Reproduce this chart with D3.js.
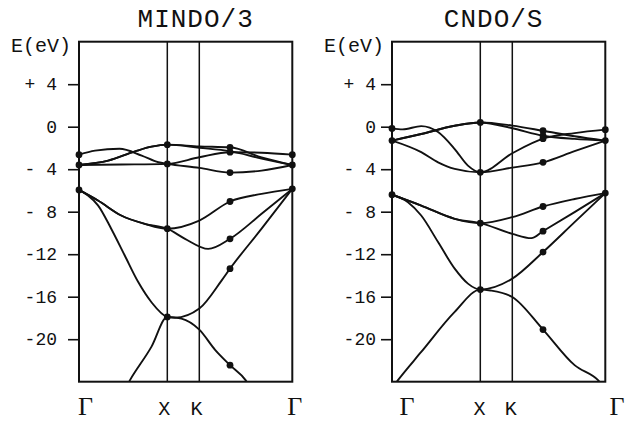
<!DOCTYPE html>
<html lang="en">
<head>
  <meta charset="UTF-8">
  <title>MINDO/3 vs CNDO/S band structure</title>
  <script src="https://d3js.org/d3.v7.min.js"></script>
  <style>
    body { margin: 0; background: #fff; }
    svg { display: block; }
    .mono { font-family: "Liberation Mono", "DejaVu Sans Mono", monospace; fill: #111; }
    .greek { font-family: "Liberation Serif", "DejaVu Serif", serif; fill: #111; }
    .band { fill: none; stroke: #111; stroke-width: 1.9; }
  </style>
</head>
<body>
  <svg id="chart" width="626" height="421"></svg>

  <script>
    // energy axis
    const energyTicks = [4, 0, -4, -8, -12, -16, -20];
    const energyLabels = ["+ 4", "0", "- 4", "- 8", "-12", "-16", "-20"];
    const energyDomain = [8, -24];

    // k path: Γ - X - K - Γ (fraction of path length)
    const kPoints = [0, 0.414, 0.564, 1];
    const kNames = ["Γ", "X", "K", "Γ"];

    // ---- MINDO/3 ----
    const mindoBands = [
      [[0,-2.63],[0.075,-2.25],[0.19,-2.08],[0.294,-2.72],[0.372,-3.35],[0.414,-3.5],[0.564,-3.88],[0.708,-4.32],[0.856,-4.13],[1,-3.6]],
      [[0,-3.6],[0.2,-3.56],[0.414,-3.5],[0.564,-2.88],[0.708,-2.4],[0.856,-2.45],[1,-2.63]],
      [[0,-3.6],[0.137,-3.19],[0.263,-2.32],[0.34,-1.88],[0.414,-1.69],[0.564,-1.85],[0.708,-1.94],[0.856,-2.88],[1,-3.6]],
      [[0,-3.6],[0.137,-3.19],[0.263,-2.32],[0.34,-1.88],[0.414,-1.69],[0.564,-1.98],[0.708,-2.3],[0.856,-3.0],[1,-3.6]],
      [[0,-5.95],[0.089,-6.95],[0.198,-8.36],[0.308,-9.14],[0.414,-9.6],[0.564,-8.83],[0.708,-7.04],[0.856,-6.32],[1,-5.85]],
      [[0,-5.95],[0.089,-6.95],[0.198,-8.36],[0.308,-9.14],[0.414,-9.6],[0.497,-10.55],[0.606,-11.5],[0.708,-10.55],[0.856,-8.2],[1,-5.85]],
      [[0,-5.95],[0.042,-6.48],[0.089,-7.4],[0.151,-9.6],[0.214,-12.1],[0.277,-14.6],[0.339,-16.5],[0.414,-17.9],[0.45,-17.98],[0.564,-17.12],[0.669,-14.46],[0.708,-13.36],[0.856,-9.6],[1,-5.85]],
      [[0.18,-26],[0.239,-23.85],[0.34,-20.7],[0.414,-17.9],[0.48,-18.06],[0.564,-19.1],[0.638,-21.0],[0.708,-22.44],[0.781,-23.85],[0.84,-26]]
    ];
    const mindoDots = [
      [0,-2.63],[0,-3.6],[0,-5.95],
      [0.414,-1.69],[0.414,-3.5],[0.414,-9.6],[0.414,-17.9],
      [0.708,-1.94],[0.708,-2.4],[0.708,-4.32],[0.708,-7.04],[0.708,-10.55],[0.708,-13.36],[0.708,-22.44],
      [1,-2.63],[1,-3.6],[1,-5.85]
    ];
    const mindoLabelK = [0.03, 0.4, 0.551, 1.011];

    // ---- CNDO/S ----
    const cndoBands = [
      [[0,-0.16],[0.05,-0.25],[0.137,0.05],[0.216,-0.5],[0.294,-2.1],[0.356,-3.66],[0.414,-4.29],[0.564,-3.85],[0.708,-3.35],[0.856,-2.3],[1,-1.31]],
      [[0,-1.31],[0.137,-2.4],[0.216,-3.35],[0.294,-3.97],[0.414,-4.29],[0.564,-2.5],[0.708,-1.13],[0.856,-0.6],[1,-0.28]],
      [[0,-1.31],[0.137,-0.69],[0.294,0.09],[0.414,0.4],[0.564,0.1],[0.708,-0.38],[0.856,-0.9],[1,-1.31]],
      [[0,-1.31],[0.137,-0.69],[0.294,0.09],[0.414,0.4],[0.564,-0.15],[0.708,-0.85],[0.856,-1.15],[1,-1.31]],
      [[0,-6.4],[0.137,-7.42],[0.294,-8.67],[0.414,-9.08],[0.564,-8.51],[0.708,-7.51],[0.856,-6.8],[1,-6.25]],
      [[0,-6.4],[0.137,-7.42],[0.294,-8.67],[0.414,-9.08],[0.564,-10.08],[0.653,-10.49],[0.708,-9.83],[0.856,-8.04],[1,-6.25]],
      [[0,-6.4],[0.075,-7.1],[0.137,-8.36],[0.216,-10.86],[0.294,-13.36],[0.356,-14.77],[0.414,-15.33],[0.564,-14.3],[0.708,-11.8],[0.856,-8.98],[1,-6.25]],
      [[-0.05,-26],[0.028,-23.85],[0.137,-21.2],[0.294,-17.43],[0.414,-15.33],[0.462,-15.42],[0.564,-16.03],[0.708,-19.09],[0.856,-22.44],[0.966,-23.85],[1.05,-26]]
    ];
    const cndoDots = [
      [0,-0.16],[0,-1.31],[0,-6.4],
      [0.414,0.4],[0.414,-4.29],[0.414,-9.08],[0.414,-15.33],
      [0.708,-0.38],[0.708,-0.85],[0.708,-1.13],[0.708,-3.35],[0.708,-7.51],[0.708,-9.83],[0.708,-11.8],[0.708,-19.09],
      [1,-0.28],[1,-1.31],[1,-6.25]
    ];
    const cndoLabelK = [0.07, 0.41, 0.557, 1.055];

    const svg = d3.select("#chart");

    const frameTop = 41.7, frameBottom = 381.7, panelW = 213.3;
    const y = d3.scaleLinear().domain(energyDomain).range([frameTop, frameBottom]);

    function drawPanel(id, left, title, bands, dots, labelK, tickPad) {
      const x = d3.scaleLinear().domain([0, 1]).range([left, left + panelW]);
      const g = svg.append("g");

      g.append("clipPath").attr("id", "clip-" + id)
        .append("rect")
        .attr("x", x(0)).attr("y", y(energyDomain[0]))
        .attr("width", x(1) - x(0)).attr("height", y(energyDomain[1]) - y(energyDomain[0]));

      // title
      g.append("text").attr("class", "mono")
        .attr("x", (x(0) + x(1)) / 2 + (id === "m" ? 10 : -5))
        .attr("y", 27)
        .attr("text-anchor", "middle")
        .style("font-size", "26px")
        .style("letter-spacing", "1px")
        .text(title);

      g.append("text").attr("class", "mono")
        .attr("x", x(0) - 68).attr("y", 52)
        .style("font-size", "20px")
        .text("E(eV)");

      // energy axis
      const axis = g.append("g")
        .attr("transform", `translate(${x(0)},0)`)
        .call(d3.axisLeft(y).tickValues(energyTicks).tickSize(11).tickSizeOuter(0)
          .tickPadding(tickPad).tickFormat((d, i) => energyLabels[i]));
      axis.select(".domain").remove();
      axis.selectAll("line").attr("stroke", "#111").attr("stroke-width", 1.6);
      axis.selectAll("text")
        .attr("class", "mono")
        .style("font-size", "18px")
        .style("white-space", "pre")
        .attr("fill", "#111");

      // X and K lines
      g.selectAll(".kline").data(kPoints.slice(1, 3)).enter().append("line")
        .attr("x1", d => x(d)).attr("x2", d => x(d))
        .attr("y1", y(energyDomain[0])).attr("y2", y(energyDomain[1]))
        .attr("stroke", "#111").attr("stroke-width", 1.5);

      // bands
      const line = d3.line()
        .x(d => x(d[0])).y(d => y(d[1]))
        .curve(d3.curveMonotoneX);
      g.append("g").attr("clip-path", `url(#clip-${id})`)
        .selectAll("path").data(bands).enter().append("path")
        .attr("class", "band")
        .attr("d", line);

      // dots
      g.selectAll(".dot").data(dots).enter().append("circle")
        .attr("cx", d => x(d[0])).attr("cy", d => y(d[1]))
        .attr("r", 3.4).attr("fill", "#111");

      // frame
      g.append("rect")
        .attr("x", x(0)).attr("y", y(energyDomain[0]))
        .attr("width", x(1) - x(0)).attr("height", y(energyDomain[1]) - y(energyDomain[0]))
        .attr("fill", "none").attr("stroke", "#111").attr("stroke-width", 2);

      // k labels
      g.selectAll(".klabel").data(kNames).enter().append("text")
        .attr("class", d => d === "Γ" ? "greek" : "mono")
        .attr("x", (d, i) => x(labelK[i]))
        .attr("y", 415)
        .attr("text-anchor", "middle")
        .style("font-size", d => d === "Γ" ? "26px" : "20px")
        .text(d => d);
    }

    drawPanel("m", 79, "MINDO/3", mindoBands, mindoDots, mindoLabelK, 11);
    drawPanel("c", 392, "CNDO/S", cndoBands, cndoDots, cndoLabelK, 5);
  </script>
</body>
</html>
